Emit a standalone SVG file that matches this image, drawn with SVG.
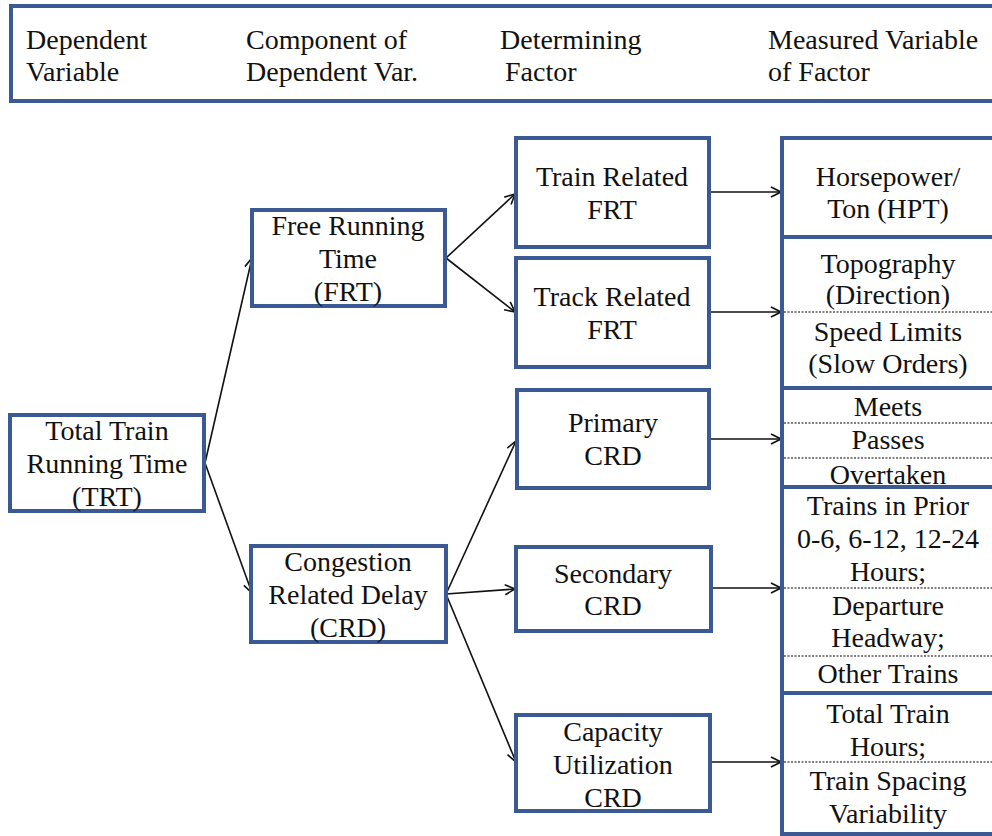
<svg xmlns="http://www.w3.org/2000/svg" width="992" height="836" viewBox="0 0 992 836">
  <style>
    .box { fill: #ffffff; stroke: #3b5a93; stroke-width: 4; }
    .c { text-anchor: middle; }
    .sep { stroke: #555555; stroke-width: 1.3; stroke-dasharray: 2 1.5; fill: none; }
    .edge { stroke: #111111; stroke-width: 1.6; fill: none; marker-end: url(#arrow); }
  </style>
  <defs>
    <marker id="arrow" viewBox="0 0 12 12" refX="11" refY="6" markerWidth="12" markerHeight="12" markerUnits="userSpaceOnUse" orient="auto">
      <path d="M1,1 L11,6 L1,11" fill="none" stroke="#111111" stroke-width="1.6"/>
    </marker>
  </defs>
  <rect width="992" height="836" fill="#ffffff"/>

  <g font-family="Liberation Serif, DejaVu Serif, serif" font-size="28" fill="#111111">
  <!-- column headings -->
  <g id="header">
    <rect class="box" x="11" y="6" width="1000" height="95"/>
    <text x="26" y="49">Dependent</text>
    <text x="26" y="81">Variable</text>
    <text x="246" y="49">Component of</text>
    <text x="246" y="81">Dependent Var.</text>
    <text x="500" y="49">Determining</text>
    <text x="505" y="81">Factor</text>
    <text x="768" y="49">Measured Variable</text>
    <text x="768" y="81">of Factor</text>
  </g>

  <!-- connectors -->
  <g id="connectors">
    <path class="edge" d="M205,463 L252,258"/>
    <path class="edge" d="M205,463 L252,593"/>
    <path class="edge" d="M446,258 L515,194"/>
    <path class="edge" d="M446,258 L515,312"/>
    <path class="edge" d="M446,594 L516,441"/>
    <path class="edge" d="M446,594 L515,589"/>
    <path class="edge" d="M446,594 L516,762"/>
    <path class="edge" d="M709,192 L781,192"/>
    <path class="edge" d="M709,312 L781,312"/>
    <path class="edge" d="M709,439 L781,439"/>
    <path class="edge" d="M711,588 L781,588"/>
    <path class="edge" d="M710,762 L781,762"/>
  </g>

  <g id="trt">
    <rect class="box" x="10" y="415" width="194" height="96"/>
    <text class="c" x="107" y="440">Total Train</text>
    <text class="c" x="107" y="473">Running Time</text>
    <text class="c" x="107" y="506">(TRT)</text>
  </g>

  <g id="frt">
    <rect class="box" x="252" y="210" width="193" height="96"/>
    <text class="c" x="348" y="235">Free Running</text>
    <text class="c" x="348" y="268">Time</text>
    <text class="c" x="348" y="301">(FRT)</text>
  </g>

  <g id="crd">
    <rect class="box" x="251" y="546" width="195" height="96"/>
    <text class="c" x="348" y="571">Congestion</text>
    <text class="c" x="348" y="604">Related Delay</text>
    <text class="c" x="348" y="637">(CRD)</text>
  </g>

  <g id="train-frt">
    <rect class="box" x="516" y="138" width="193" height="109"/>
    <text class="c" x="612" y="186">Train Related</text>
    <text class="c" x="612" y="219">FRT</text>
  </g>

  <g id="track-frt">
    <rect class="box" x="516" y="258" width="193" height="109"/>
    <text class="c" x="612" y="306">Track Related</text>
    <text class="c" x="612" y="339">FRT</text>
  </g>

  <g id="primary-crd">
    <rect class="box" x="517" y="390" width="192" height="98"/>
    <text class="c" x="613" y="432">Primary</text>
    <text class="c" x="613" y="465">CRD</text>
  </g>

  <g id="secondary-crd">
    <rect class="box" x="516" y="547" width="195" height="84"/>
    <text class="c" x="613" y="583">Secondary</text>
    <text class="c" x="613" y="615">CRD</text>
  </g>

  <g id="capacity-crd">
    <rect class="box" x="516" y="715" width="194" height="96"/>
    <text class="c" x="613" y="741">Capacity</text>
    <text class="c" x="613" y="774">Utilization</text>
    <text class="c" x="613" y="807">CRD</text>
  </g>

  <g id="hpt">
    <rect class="box" x="782" y="138" width="230" height="99"/>
    <text class="c" x="888" y="186">Horsepower/</text>
    <text class="c" x="888" y="218">Ton (HPT)</text>
  </g>

  <g id="track-vars">
    <rect class="box" x="782" y="237" width="230" height="151"/>
    <line class="sep" x1="784" y1="312" x2="992" y2="312"/>
    <text class="c" x="888" y="273">Topography</text>
    <text class="c" x="888" y="304">(Direction)</text>
    <text class="c" x="888" y="341">Speed Limits</text>
    <text class="c" x="888" y="373">(Slow Orders)</text>
  </g>

  <g id="primary-vars">
    <rect class="box" x="782" y="388" width="230" height="99"/>
    <line class="sep" x1="784" y1="423" x2="992" y2="423"/>
    <line class="sep" x1="784" y1="458" x2="992" y2="458"/>
    <text class="c" x="888" y="416">Meets</text>
    <text class="c" x="888" y="449">Passes</text>
    <text class="c" x="888" y="484">Overtaken</text>
  </g>

  <g id="secondary-vars">
    <rect class="box" x="782" y="487" width="230" height="206"/>
    <line class="sep" x1="784" y1="588" x2="992" y2="588"/>
    <line class="sep" x1="784" y1="656" x2="992" y2="656"/>
    <text class="c" x="888" y="515">Trains in Prior</text>
    <text class="c" x="888" y="548">0-6, 6-12, 12-24</text>
    <text class="c" x="888" y="581">Hours;</text>
    <text class="c" x="888" y="615">Departure</text>
    <text class="c" x="888" y="647">Headway;</text>
    <text class="c" x="888" y="683">Other Trains</text>
  </g>

  <g id="capacity-vars">
    <rect class="box" x="782" y="693" width="230" height="141"/>
    <line class="sep" x1="784" y1="762" x2="992" y2="762"/>
    <text class="c" x="888" y="723">Total Train</text>
    <text class="c" x="888" y="756">Hours;</text>
    <text class="c" x="888" y="790">Train Spacing</text>
    <text class="c" x="888" y="823">Variability</text>
  </g>
  </g>
</svg>
